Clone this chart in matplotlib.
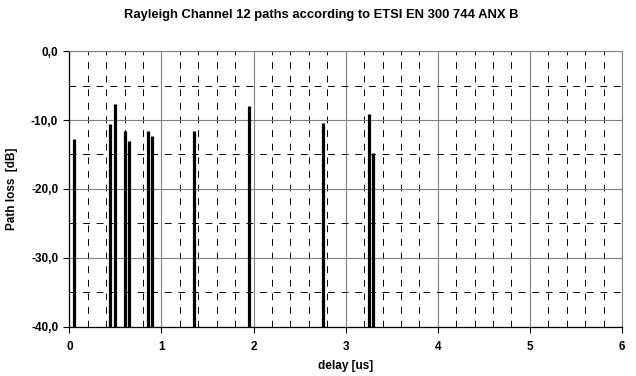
import numpy as np
import matplotlib.pyplot as plt
from matplotlib.ticker import MultipleLocator, FuncFormatter

plt.rcParams['font.family'] = ['Liberation Sans', 'DejaVu Sans']
plt.rcParams['font.weight'] = 'bold'

# 12 path delays [us] and path loss [dB]
delay_us = [0.05, 0.445, 0.50, 0.60, 0.65, 0.85, 0.90, 1.35, 1.95, 2.75, 3.25, 3.30]
loss_db = [-12.8, -10.6, -7.7, -11.65, -13.1, -11.55, -12.3, -11.65, -7.9, -10.4, -9.15, -14.75]

fig = plt.figure(figsize=(6.36, 3.76), dpi=100)
ax = fig.add_axes([0.109, 0.131, 0.869, 0.733])

ax.set_xlim(0, 6)
ax.set_ylim(-40, 0)

ax.xaxis.set_major_locator(MultipleLocator(1))
ax.xaxis.set_minor_locator(MultipleLocator(0.2))
ax.yaxis.set_major_locator(MultipleLocator(10))
ax.yaxis.set_minor_locator(MultipleLocator(5))
ax.yaxis.set_major_formatter(FuncFormatter(lambda v, p: f'{v:.1f}'.replace('.', ',')))

ax.grid(which='major', color='#808080', linewidth=0.8, linestyle='-')
ax.grid(which='minor', color='black', linewidth=0.7, dashes=(7, 7))
ax.set_axisbelow(True)

ax.vlines(delay_us, -40, loss_db, colors='black', linewidth=2.3, zorder=3)

for s in ['top', 'right']:
    ax.spines[s].set_color('#808080')
    ax.spines[s].set_linewidth(0.8)
for s in ['left', 'bottom']:
    ax.spines[s].set_color('black')
    ax.spines[s].set_linewidth(0.9)

ax.tick_params(which='major', direction='out', length=4, width=0.8, labelsize=8.5, pad=4)
ax.tick_params(which='minor', length=0)
ax.tick_params(axis='x', pad=6)

fig.text(0.505, 1 - 15 / 376, 'Rayleigh Channel 12 paths according to ETSI EN 300 744 ANX B',
         ha='center', va='center', fontsize=9.4, fontweight='bold')
ax.set_xlabel('delay [us]', fontsize=8.5, fontweight='bold', labelpad=5)
ax.set_ylabel('Path loss  [dB]', fontsize=8.5, fontweight='bold', labelpad=9)

fig.savefig('out.png', dpi=100)
